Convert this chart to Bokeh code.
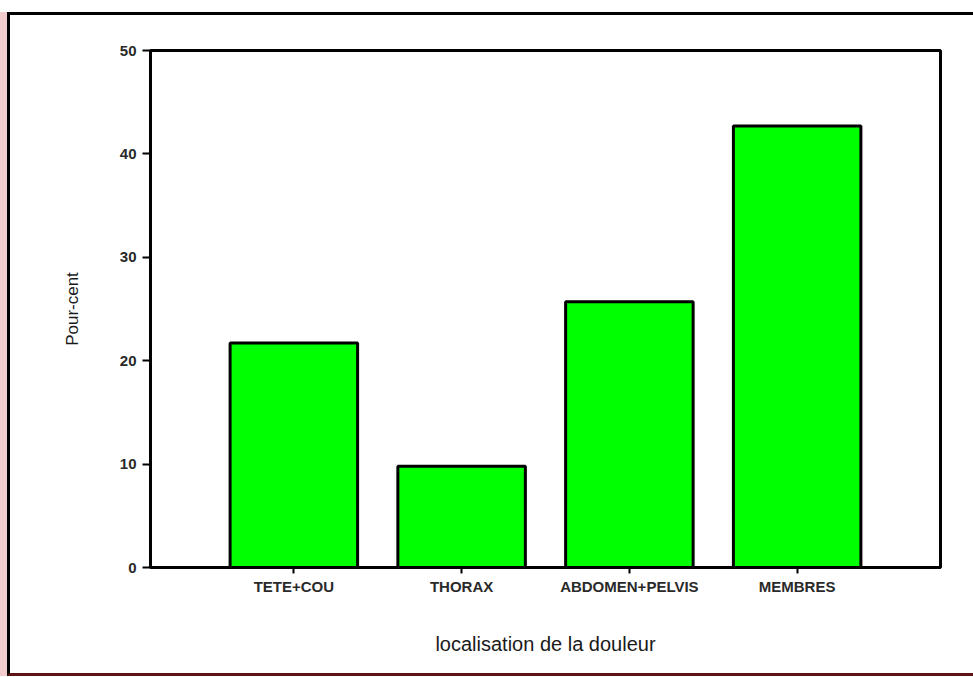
from bokeh.plotting import figure
from bokeh.models import FactorRange, Range1d, ColumnDataSource, FixedTicker
from bokeh.embed import file_html
from bokeh.resources import INLINE

categories = ["TETE+COU", "THORAX", "ABDOMEN+PELVIS", "MEMBRES"]
percents = [21.7, 9.8, 25.7, 42.7]
y_ticks = [0, 10, 20, 30, 40, 50]

W, H = 966, 664
src = ColumnDataSource(data=dict(cat=categories, pct=percents))

p = figure(
    width=W, height=H,
    x_range=FactorRange(*categories, range_padding=0.3545, range_padding_units="absolute"),
    y_range=Range1d(0, 50),
    output_backend="svg", toolbar_location=None,
    min_border_left=140, min_border_right=36, min_border_top=35, min_border_bottom=112,
)
# outer frame of the picture (page border lines)
p.margin = (12, 0, 0, 7)
p.styles = {
    "border-top": "3px solid black",
    "border-left": "3px solid black",
    "border-bottom": "3px solid #5e1414",
    "box-shadow": "-7px 0 0 0 #f3cccc",
}
p.background_fill_color = "white"
p.border_fill_color = "white"
p.outline_line_color = "black"
p.outline_line_width = 3
p.xgrid.visible = False
p.ygrid.visible = False

p.vbar(x="cat", top="pct", width=0.76, source=src,
       fill_color="#00FF00", line_color="black", line_width=3)

# axes
p.yaxis.ticker = FixedTicker(ticks=y_ticks)
for ax in (p.xaxis[0], p.yaxis[0]):
    ax.axis_line_color = "black"
    ax.axis_line_width = 3
    ax.major_tick_line_color = "black"
    ax.major_tick_line_width = 2
    ax.major_tick_in = 0
    ax.minor_tick_line_color = None
    ax.major_label_text_font = "Liberation Sans"
    ax.major_label_text_font_style = "bold"
    ax.major_label_text_color = "#2a2a2a"
    ax.axis_label_text_font = "Liberation Sans"
    ax.axis_label_text_font_style = "normal"
    ax.axis_label_text_color = "#1a1a1a"

p.yaxis.major_tick_out = 8
p.yaxis.major_label_standoff = 6
p.yaxis.major_label_text_font_size = "15px"
p.yaxis.axis_label = "Pour-cent"
p.yaxis.axis_label_text_font_size = "17px"
p.yaxis.axis_label_standoff = 35

p.xaxis.major_tick_out = 6
p.xaxis.major_label_standoff = 4
p.xaxis.major_label_text_font_size = "15px"
p.xaxis.axis_label = "localisation de la douleur"
p.xaxis.axis_label_text_font_size = "20px"
p.xaxis.axis_label_standoff = 35

open("out.html", "w").write(file_html(p, INLINE))
